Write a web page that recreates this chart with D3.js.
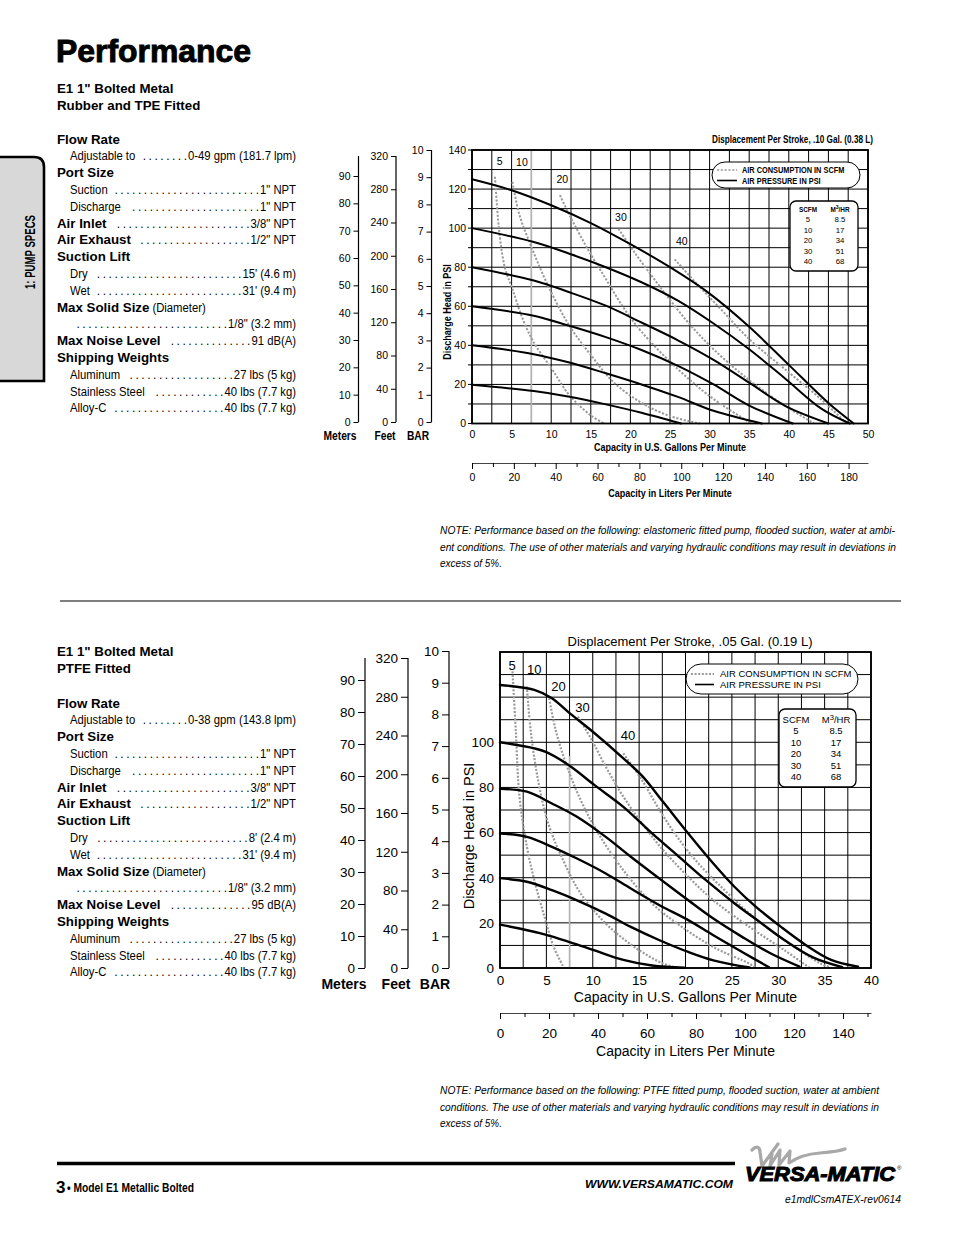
<!DOCTYPE html>
<html><head><meta charset="utf-8">
<script src="https://cdn.jsdelivr.net/npm/d3@7"></script>
<style>
body{margin:0;background:#fff}
svg{display:block}
text{font-family:"Liberation Sans",Arial,Helvetica,sans-serif;fill:#000}
</style></head><body><svg id="page" width="954" height="1235"></svg>
<script>
// ---------------- DATA ----------------
// Chart 1 (Rubber/TPE fitted)
const gpmTicks1 = [0,5,10,15,20,25,30,35,40,45,50];
const psiTicks1 = [0,20,40,60,80,100,120,140];
const literTicks1 = [0,20,40,60,80,100,120,140,160,180];
// Chart 2 (PTFE fitted)
const gpmTicks2 = [0,5,10,15,20,25,30,35,40];
const psiTicks2 = [0,20,40,60,80,100];
const literTicks2 = [0,20,40,60,80,100,120,140];
// Secondary head scales
const meterTicks = [0,10,20,30,40,50,60,70,80,90];
const feetTicks = [0,40,80,120,160,200,240,280,320];
const barTicks = [0,1,2,3,4,5,6,7,8,9,10];
// Air consumption legend table
const scfmLevels = ["5","10","20","30","40"];
const m3hrValues = ["8.5","17","34","51","68"];

// Chart 1 air pressure curves [gpm, psi]
const c1_p120 = [[0,125],[5,119.4],[10,111.7],[15,102.6],[20,91.8],[25,80],[30,66.5],[35,49.5],[40,30],[45,10.5],[48.2,0]];
const c1_p100 = [[0,100],[7.8,92.9],[12.3,86.9],[16.9,80],[21.4,72.3],[26,62.9],[30.5,51.2],[35,38],[39.6,22.8],[44.1,7.6],[47.7,0]];
const c1_p80  = [[0,80],[7.8,73.2],[12.3,67.2],[16.9,60.3],[21.4,51.7],[26,42.6],[30.5,32.6],[35,20.9],[39.6,8.9],[45,0]];
const c1_p60  = [[0,60],[7.8,55.2],[12.3,50],[16.9,44.2],[21.4,37.6],[26,29.5],[30.5,20],[35,9.2],[40.5,0]];
const c1_p40  = [[0,40],[7.8,35.5],[12.3,31.2],[16.9,25.7],[21.4,20],[26,13.6],[30.5,6.5],[36.6,0]];
const c1_p20  = [[0,19.8],[7.8,16.6],[12.3,13.7],[16.9,9.8],[21.4,5.5],[26.4,0]];
// Chart 1 air consumption curves (SCFM)
const c1_s5  = [[2.9,126.3],[3.5,96],[4.2,79],[5.1,68.9],[6.4,53.5],[7.8,41.5],[10.1,27.8],[12.3,14.5],[15.1,3.8],[16.7,0]];
const c1_s10 = [[5.1,123.7],[6,106.6],[7.6,89.4],[9.6,70.6],[12.3,50],[15.1,34.6],[17.8,21.4],[21.4,10.6],[25,3.8],[28.8,0]];
const c1_s20 = [[11.1,116.9],[12.3,106.8],[14.6,89.4],[16.9,74],[19.1,59.5],[21.4,47],[26,27.8],[30.5,12.5],[35.3,0]];
const c1_s30 = [[18.5,99.7],[20.5,87.7],[23.7,70.2],[27.3,51.7],[30.5,38],[35,22.2],[39.6,8.9],[43.2,0]];
const c1_s40 = [[25.6,84],[28.2,72.3],[31.4,58.6],[35,43.2],[39.6,27.5],[44.1,12.3],[47.3,0]];
const c1_labelPos = [[3.5,134.5],[6.3,134],[11.4,125],[18.8,105.5],[26.5,93.5]];

// Chart 2 air pressure curves [gpm, psi]
const c2_p120 = [[0,125.4],[3.7,123.2],[5.6,119.5],[7.5,112.9],[10.2,104],[13.3,92.9],[15.3,85.2],[17.6,73.5],[20.3,59.6],[23,46.3],[25.3,35.9],[27.6,27.1],[30.3,18.2],[33,10.1],[35.7,3.6],[38.6,0.6]];
const c2_p100 = [[0,100],[3.7,97.3],[5,95.6],[7.5,89.6],[10.2,81],[13.3,71.4],[16.4,59.6],[19.1,50],[22.2,38.9],[25.3,28.6],[28,20.4],[30.7,12.3],[33.8,4.6],[36.9,0.4]];
const c2_p80  = [[0,79.4],[2.9,78.1],[5.6,72.9],[8.3,67],[11.4,58.1],[14.1,49.3],[17.2,39.6],[20.3,30],[23,21.9],[26.1,13.8],[29.2,6.4],[32.3,0.6]];
const c2_p60  = [[0,59.6],[2.9,58.1],[5.6,53.7],[8.3,48.5],[11.4,41.9],[14.1,35.2],[17.2,27.8],[20.3,21.2],[23,14.5],[26.1,7.1],[29,0.3]];
const c2_p40  = [[0,39.8],[2.9,38.2],[5.6,34.5],[8.3,30],[11.4,24.1],[14.1,18.2],[17.2,12.3],[20.3,7.1],[23,3.4],[26.9,0.2]];
const c2_p20  = [[0,19.2],[2.1,17.5],[4.8,14.9],[7.5,11.5],[10.2,7.8],[13.3,3.6],[16.4,1.1],[19.9,0.1]];
// Chart 2 air consumption curves (SCFM)
const c2_s5  = [[1.35,131.4],[1.7,105.5],[2.1,75.9],[2.9,53.7],[3.7,38.9],[4.8,22.6],[5.8,9.3],[6.9,0]];
const c2_s10 = [[2.9,124.7],[3.3,105.5],[4.1,83.3],[5.2,64.1],[6.8,47.8],[8.7,33],[11.4,19.7],[14.5,9.3],[17.6,1.9],[19.1,0]];
const c2_s20 = [[5.3,119.5],[6,105.5],[7.1,90.7],[8.7,74.4],[10.6,59.6],[13.3,43.3],[16.4,28.6],[19.1,19.7],[23,9.3],[26.9,1.9],[27.6,0]];
const c2_s30 = [[8.4,111.4],[9.9,101],[11.4,89.2],[13.3,75.9],[15.3,64.1],[17.6,52.2],[20.3,40.4],[23,30],[26.9,18.2],[30.7,7.8],[33.4,0]];
const c2_s40 = [[13.3,95.1],[15.3,83.3],[17.2,70],[19.1,58.1],[21.4,46.3],[24.2,34.5],[26.9,24.1],[30.7,12.3],[34.6,1.9],[35.7,0]];
const c2_labelPos = [[1.3,134],[3.7,132.5],[6.3,125],[8.9,115.5],[13.8,103]];

const LITERS_PER_GAL = 3.78541;

// ---------------- HELPERS ----------------
const svg = d3.select("#page");
svg.append("rect").attr("width",954).attr("height",1235).attr("fill","#fff");

// condensed text via horizontal scaling
function ct(parent,o){
  const k = o.k||0.82;
  const tr = `translate(${o.x},${o.y})` + (o.rot?` rotate(${o.rot})`:"") + ` scale(${k},1)`;
  const t = parent.append("text").attr("transform",tr).attr("font-size",o.size)
    .attr("text-anchor",o.anchor||"start");
  if(o.weight) t.attr("font-weight",o.weight);
  if(o.style) t.attr("font-style",o.style);
  t.text(o.text);
  return t;
}

function drawChart(o){
  const g = svg.append("g");
  const x = d3.scaleLinear().domain([0,o.gpmMax]).range([o.x0,o.x1]);
  const y = d3.scaleLinear().domain([0,140]).range([o.yb,o.yt]);
  // grid
  const grid = g.append("g").attr("stroke","#000").attr("stroke-width",1);
  d3.range(0,o.gpmMax+0.01,2.5).forEach(v=>{
    grid.append("line").attr("x1",x(v)).attr("x2",x(v)).attr("y1",o.yt).attr("y2",o.yb);
  });
  d3.range(0,141,10).forEach(v=>{
    grid.append("line").attr("x1",o.x0-o.leftTick).attr("x2",o.x1).attr("y1",y(v)).attr("y2",y(v));
  });
  g.append("line").attr("x1",x(7.5)).attr("x2",x(7.5)).attr("y1",y(o.grayTop)).attr("y2",o.yb)
    .attr("stroke","#b4b4b4").attr("stroke-width",1.6);
  // curves
  const line = d3.line().x(d=>x(d[0])).y(d=>y(d[1])).curve(d3.curveCatmullRom.alpha(0.5));
  o.air.forEach(s=>{
    g.append("path").attr("d",line(s)).attr("fill","none").attr("stroke","#9a9a9a")
      .attr("stroke-width",o.airW).attr("stroke-dasharray",o.dash);
  });
  o.pressure.forEach(s=>{
    g.append("path").attr("d",line(s)).attr("fill","none").attr("stroke","#000")
      .attr("stroke-width",o.presW).attr("stroke-linecap","round");
  });
  o.labelPos.forEach((p,i)=>{
    g.append("text").attr("x",x(p[0])).attr("y",y(p[1])+o.labelSize*0.36).attr("text-anchor","middle")
      .attr("font-size",o.labelSize).text(scfmLevels[i]);
  });
  g.append("rect").attr("x",o.x0).attr("y",o.yt).attr("width",o.x1-o.x0).attr("height",o.yb-o.yt)
    .attr("fill","none").attr("stroke","#000").attr("stroke-width",1.8);
  // psi labels
  const ya = g.append("g").attr("transform",`translate(${o.x0},0)`)
    .call(d3.axisLeft(y).tickValues(o.psiTicks).tickSize(0).tickPadding(o.yPad));
  ya.select(".domain").remove();
  ya.selectAll("text").attr("font-size",o.tickSize).attr("font-family",null);
  // gpm labels
  const xa = g.append("g").attr("transform",`translate(0,${o.yb})`)
    .call(d3.axisBottom(x).tickValues(o.gpmTicks).tickSize(0).tickPadding(o.xPad));
  xa.select(".domain").remove();
  xa.selectAll("text").attr("font-size",o.tickSize).attr("font-family",null);
  // liters axis
  const L = d3.scaleLinear().domain([0,o.gpmMax*LITERS_PER_GAL]).range([o.x0,o.x1]);
  const minor = d3.range(10,o.gpmMax*LITERS_PER_GAL,20);
  const lm = g.append("g").attr("transform",`translate(0,${o.lAxisY})`)
    .call(d3.axisBottom(L).tickValues(minor).tickSize(4).tickSizeOuter(0).tickFormat(""));
  lm.select(".domain").attr("stroke","#444");
  const la = g.append("g").attr("transform",`translate(0,${o.lAxisY})`)
    .call(d3.axisBottom(L).tickValues(o.literTicks).tickSize(6).tickSizeOuter(0).tickPadding(o.lPad));
  la.select(".domain").remove();
  la.selectAll("text").attr("font-size",o.tickSize).attr("font-family",null);
  // titles
  const k = o.titleK;
  ct(g,{x:(o.x0+o.x1)/2,y:o.gpmTitleY,anchor:"middle",size:o.titleSize,weight:o.titleWeight,k,text:"Capacity in U.S. Gallons Per Minute"});
  ct(g,{x:(o.x0+o.x1)/2,y:o.lTitleY,anchor:"middle",size:o.titleSize,weight:o.titleWeight,k,text:"Capacity in Liters Per Minute"});
  g.append("text").attr("transform",`translate(${o.yTitleX},${o.yTitleY}) rotate(-90) scale(${k},1)`)
    .attr("text-anchor","middle").attr("font-size",o.yTitleSize).attr("font-weight",o.titleWeight).text("Discharge Head in PSI");
  ct(g,{x:o.dispX,y:o.dispY,anchor:o.dispAnchor,size:o.dispSize,weight:o.titleWeight,k,text:o.dispText});
  // secondary left axes
  o.side.forEach(s=>{
    const sc = d3.scaleLinear().domain([0,s.max]).range([o.sideBottom,s.topTick]);
    const a = g.append("g").attr("transform",`translate(${s.x},0)`)
      .call(d3.axisLeft(sc).tickValues(s.ticks).tickSize(s.tick).tickSizeOuter(0).tickPadding(3));
    a.select(".domain").remove();
    a.selectAll("text").attr("font-size",o.tickSize).attr("font-family",null);
    g.append("line").attr("x1",s.x).attr("x2",s.x).attr("y1",s.lineTop).attr("y2",o.sideBottom)
      .attr("stroke","#000").attr("stroke-width",1.2);
    ct(g,{x:s.labelX,y:o.unitY,anchor:"middle",size:o.unitSize,weight:"bold",k,text:s.name});
  });
  // legend pill
  const lg = o.legend;
  g.append("rect").attr("x",lg.x).attr("y",lg.y).attr("width",lg.w).attr("height",lg.h)
    .attr("rx",lg.h/2).attr("fill","#fff").attr("stroke","#000").attr("stroke-width",1);
  g.append("line").attr("x1",lg.x+lg.sx0).attr("x2",lg.x+lg.sx1).attr("y1",lg.y+lg.r1).attr("y2",lg.y+lg.r1)
    .attr("stroke","#9a9a9a").attr("stroke-width",o.airW*0.8).attr("stroke-dasharray",o.dash);
  g.append("line").attr("x1",lg.x+lg.sx0+lg.solidOff).attr("x2",lg.x+lg.sx1).attr("y1",lg.y+lg.r2).attr("y2",lg.y+lg.r2)
    .attr("stroke","#000").attr("stroke-width",1.6);
  ct(g,{x:lg.x+lg.tx,y:lg.y+lg.r1+lg.fs*0.36,size:lg.fs,weight:o.titleWeight,k,text:"AIR CONSUMPTION IN SCFM"});
  ct(g,{x:lg.x+lg.tx,y:lg.y+lg.r2+lg.fs*0.36,size:lg.fs,weight:o.titleWeight,k,text:"AIR PRESSURE IN PSI"});
  // table
  const tb = o.table;
  g.append("rect").attr("x",tb.x).attr("y",tb.y).attr("width",tb.w).attr("height",tb.h)
    .attr("rx",6).attr("fill","#fff").attr("stroke","#000").attr("stroke-width",1.3);
  ct(g,{x:tb.c1,y:tb.hy,anchor:"middle",size:tb.fs,weight:o.titleWeight,k,text:"SCFM"});
  const h2 = ct(g,{x:tb.c2,y:tb.hy,anchor:"middle",size:tb.fs,weight:o.titleWeight,k,text:""});
  h2.append("tspan").text("M");
  h2.append("tspan").attr("dy",-tb.fs*0.35).attr("font-size",tb.fs*0.8).text("3");
  h2.append("tspan").attr("dy",tb.fs*0.35).text("/HR");
  scfmLevels.forEach((s,i)=>{
    g.append("text").attr("x",tb.c1).attr("y",tb.ry0+i*tb.rdy).attr("text-anchor","middle").attr("font-size",tb.fs).text(s);
    g.append("text").attr("x",tb.c2).attr("y",tb.ry0+i*tb.rdy).attr("text-anchor","middle").attr("font-size",tb.fs).text(m3hrValues[i]);
  });
}

drawChart({
  x0:472,x1:868,yt:150,yb:423.5,gpmMax:50,leftTick:4,grayTop:140,
  gpmTicks:gpmTicks1,psiTicks:psiTicks1,literTicks:literTicks1,
  pressure:[c1_p120,c1_p100,c1_p80,c1_p60,c1_p40,c1_p20],
  air:[c1_s5,c1_s10,c1_s20,c1_s30,c1_s40],labelPos:c1_labelPos,labelSize:10.5,
  presW:2,airW:2,dash:"2.2,1.6",
  tickSize:10.5,yPad:6,xPad:7,lAxisY:463,lPad:5,
  titleK:0.82,titleWeight:"bold",titleSize:11,yTitleSize:11,
  gpmTitleY:451,lTitleY:497,yTitleX:451,yTitleY:312,
  dispX:873,dispY:143,dispAnchor:"end",dispSize:10,dispText:"Displacement Per Stroke, .10 Gal. (0.38 L)",
  sideBottom:422,unitY:440,unitSize:12.5,
  side:[
    {name:"Meters",x:358.5,max:90,ticks:meterTicks,topTick:176,lineTop:156,tick:5,labelX:340},
    {name:"Feet",x:396,max:320,ticks:feetTicks,topTick:156,lineTop:156,tick:5,labelX:385},
    {name:"BAR",x:431.5,max:10,ticks:barTicks,topTick:150,lineTop:150,tick:5,labelX:418}
  ],
  legend:{x:712,y:162,w:148,h:26,sx0:5,sx1:25,solidOff:0,r1:8,r2:18.5,tx:30,fs:9},
  table:{x:790,y:201,w:68,h:70,c1:808,c2:840,hy:212,ry0:222,rdy:10.5,fs:7.8}
});

drawChart({
  x0:500,x1:871,yt:652,yb:968,gpmMax:40,leftTick:0,grayTop:94,
  gpmTicks:gpmTicks2,psiTicks:psiTicks2,literTicks:literTicks2,
  pressure:[c2_p120,c2_p100,c2_p80,c2_p60,c2_p40,c2_p20],
  air:[c2_s5,c2_s10,c2_s20,c2_s30,c2_s40],labelPos:c2_labelPos,labelSize:13,
  presW:2.4,airW:2.2,dash:"2,1.6",
  tickSize:13.5,yPad:6,xPad:7,lAxisY:1013,lPad:9,
  titleK:1,titleWeight:"normal",titleSize:14,yTitleSize:14.5,
  gpmTitleY:1002,lTitleY:1056,yTitleX:474,yTitleY:836,
  dispX:690,dispY:646,dispAnchor:"middle",dispSize:13,dispText:"Displacement Per Stroke, .05 Gal. (0.19 L)",
  sideBottom:968,unitY:989,unitSize:14,
  side:[
    {name:"Meters",x:365,max:90,ticks:meterTicks,topTick:680,lineTop:658,tick:7,labelX:344},
    {name:"Feet",x:408,max:320,ticks:feetTicks,topTick:658,lineTop:658,tick:7,labelX:396},
    {name:"BAR",x:449,max:10,ticks:barTicks,topTick:651,lineTop:651,tick:7,labelX:435}
  ],
  legend:{x:686,y:664,w:172,h:30,sx0:5,sx1:28,solidOff:4,r1:10,r2:20.5,tx:34,fs:9.5},
  table:{x:779,y:709,w:77,h:78,c1:796,c2:836,hy:723,ry0:734,rdy:11.5,fs:9.5}
});

// ---------------- PAGE TEXT ----------------
svg.append("text").attr("x",56).attr("y",62).attr("font-size",31).attr("font-weight","bold")
  .attr("stroke","#000").attr("stroke-width",0.9).attr("textLength",195).attr("lengthAdjust","spacingAndGlyphs").text("Performance");

// side tab
svg.append("path").attr("d","M0,157 H34 Q44,157 44,167 V381 H0")
  .attr("fill","#d8d8d8").attr("stroke","#000").attr("stroke-width",2.6);
svg.append("text").attr("transform","translate(35,252) rotate(-90)").attr("text-anchor","middle")
  .attr("font-size",14.5).attr("font-weight","bold").attr("textLength",74).attr("lengthAdjust","spacingAndGlyphs").text("1: PUMP SPECS");

const specRows1 = [
 ["h","Flow Rate"],["s","Adjustable to","0-49 gpm (181.7 lpm)"],["h","Port Size"],
 ["s","Suction",'1" NPT'],["s","Discharge",'1" NPT'],["hv","Air Inlet",'3/8" NPT'],["hv","Air Exhaust",'1/2" NPT'],
 ["h","Suction Lift"],["s","Dry","15' (4.6 m)"],["s","Wet","31' (9.4 m)"],["hd","Max Solid Size"],
 ["s","",'1/8" (3.2 mm)'],["hv","Max Noise Level","91 dB(A)"],["h","Shipping Weights"],
 ["s","Aluminum","27 lbs (5 kg)"],["s","Stainless Steel","40 lbs (7.7 kg)"],["s","Alloy-C","40 lbs (7.7 kg)"]
];
const specRows2 = [
 ["h","Flow Rate"],["s","Adjustable to","0-38 gpm (143.8 lpm)"],["h","Port Size"],
 ["s","Suction",'1" NPT'],["s","Discharge",'1" NPT'],["hv","Air Inlet",'3/8" NPT'],["hv","Air Exhaust",'1/2" NPT'],
 ["h","Suction Lift"],["s","Dry","8' (2.4 m)"],["s","Wet","31' (9.4 m)"],["hd","Max Solid Size"],
 ["s","",'1/8" (3.2 mm)'],["hv","Max Noise Level","95 dB(A)"],["h","Shipping Weights"],
 ["s","Aluminum","27 lbs (5 kg)"],["s","Stainless Steel","40 lbs (7.7 kg)"],["s","Alloy-C","40 lbs (7.7 kg)"]
];

function drawSpecs(title1,title2,ty,rows,y0){
  svg.append("text").attr("x",57).attr("y",ty).attr("font-size",13.3).attr("font-weight","bold").text(title1);
  svg.append("text").attr("x",57).attr("y",ty+17).attr("font-size",13.3).attr("font-weight","bold").text(title2);
  const step = 16.8, right = 296, K = 0.85, FS = 13.3;
  rows.forEach((r,i)=>{
    const y = y0 + i*step + 4.5;
    const type=r[0];
    let labelEnd;
    if(type==="h"||type==="hv"||type==="hd"){
      const t = svg.append("text").attr("x",57).attr("y",y).attr("font-size",13.3).attr("font-weight","bold").text(r[1]);
      labelEnd = 57 + t.node().getComputedTextLength();
      if(type==="hd"){
        ct(svg,{x:labelEnd+3,y,size:FS,k:K,text:"(Diameter)"});
      }
    } else {
      const t = ct(svg,{x:70,y,size:FS,k:K,text:r[1]});
      labelEnd = 70 + (r[1] ? t.node().getComputedTextLength()*K : 0);
    }
    if(r[2]!==undefined){
      const v = ct(svg,{x:right,y,size:FS,k:K,anchor:"end",text:r[2]});
      const vStart = right - v.node().getComputedTextLength()*K;
      const pitch = 5.9;
      const n = Math.floor((vStart - labelEnd - 4)/pitch);
      if(n>0){
        svg.append("text").attr("x",vStart-1).attr("y",y).attr("text-anchor","end")
          .attr("font-size",12).attr("textLength",(n-1)*pitch+3).attr("lengthAdjust","spacing")
          .text(Array(n).fill(".").join(" "));
      }
    }
  });
}
drawSpecs('E1 1" Bolted Metal','Rubber and TPE Fitted',93,specRows1,139);
drawSpecs('E1 1" Bolted Metal','PTFE Fitted',656,specRows2,703);

// notes
function note(lines,y0,lens){
  lines.forEach((l,i)=>{
    svg.append("text").attr("x",440).attr("y",y0+i*16.5).attr("font-size",10.8)
      .attr("font-style","italic").attr("textLength",lens[i]).attr("lengthAdjust","spacingAndGlyphs").text(l);
  });
}
note(["NOTE: Performance based on the following: elastomeric fitted pump, flooded suction, water at ambi-",
      "ent conditions. The use of other materials and varying hydraulic conditions may result in deviations in",
      "excess of 5%."],534,[455,456,62]);
note(["NOTE: Performance based on the following: PTFE fitted pump, flooded suction, water at ambient",
      "conditions. The use of other materials and varying hydraulic conditions may result in deviations in",
      "excess of 5%."],1094,[439,439,62]);

// separator
svg.append("line").attr("x1",60).attr("x2",901).attr("y1",601).attr("y2",601).attr("stroke","#000").attr("stroke-width",1);

// footer
svg.append("line").attr("x1",57).attr("x2",735).attr("y1",1163.5).attr("y2",1163.5).attr("stroke","#000").attr("stroke-width",3.5);
svg.append("text").attr("x",56).attr("y",1193).attr("font-size",17).attr("font-weight","bold").text("3");
svg.append("text").attr("x",67).attr("y",1192).attr("font-size",12).attr("font-weight","bold")
  .attr("textLength",127).attr("lengthAdjust","spacingAndGlyphs").text("• Model E1 Metallic Bolted");
svg.append("text").attr("x",733).attr("y",1188).attr("text-anchor","end").attr("font-size",10.5).attr("font-weight","bold")
  .attr("font-style","italic").attr("textLength",148).attr("lengthAdjust","spacingAndGlyphs").text("WWW.VERSAMATIC.COM");
// logo
svg.append("path").attr("d","M752,1150 C756,1146 760,1146 760,1152 L762,1166 L778,1144 M772,1154 L770,1166 L780,1150 L779,1165 L790,1151 L789,1163 C796,1158 806,1154 820,1153 C832,1152 840,1151 845,1149")
  .attr("fill","none").attr("stroke","#a8a8a8").attr("stroke-width",3.2).attr("stroke-linecap","round").attr("stroke-linejoin","round");
svg.append("text").attr("x",745).attr("y",1181).attr("font-size",21).attr("font-weight","bold").attr("font-style","italic")
  .attr("stroke","#000").attr("stroke-width",1.1).attr("textLength",150).attr("lengthAdjust","spacingAndGlyphs").text("VERSA-MATIC");
svg.append("text").attr("x",897).attr("y",1170).attr("font-size",6).text("®");
svg.append("text").attr("x",901).attr("y",1203).attr("text-anchor","end").attr("font-size",10.5).attr("font-style","italic")
  .attr("textLength",116).attr("lengthAdjust","spacingAndGlyphs").text("e1mdlCsmATEX-rev0614");
</script></body></html>
